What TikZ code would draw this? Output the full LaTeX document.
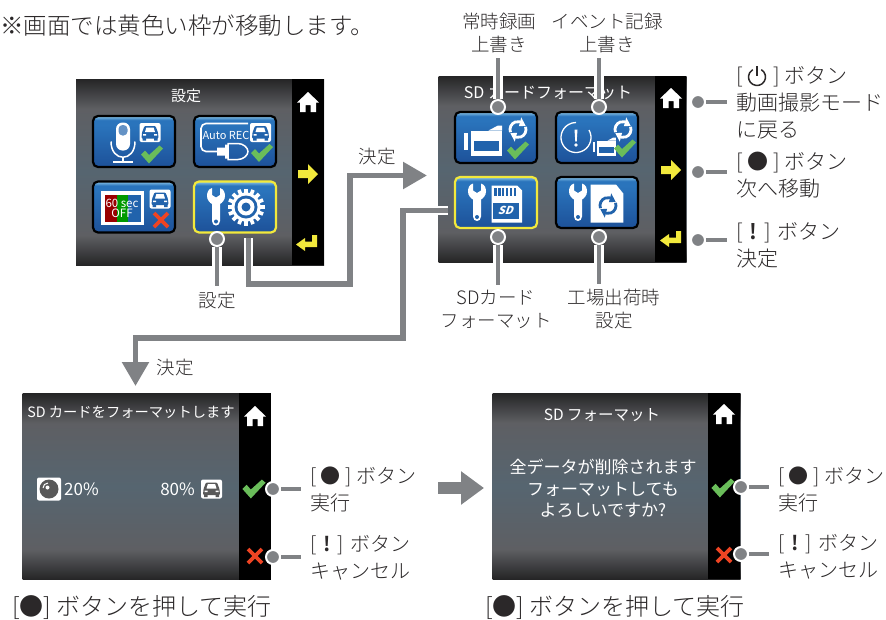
\documentclass[tikz,border=0pt]{standalone}
\usepackage{fontspec}
\setmainfont{Noto Sans CJK JP}[UprightFont={* Light},BoldFont={* Bold}]
\newfontfamily\scrfont{Noto Sans CJK JP}
\usetikzlibrary{arrows.meta}

\definecolor{inkDark}{HTML}{2B2829}
\definecolor{flowGray}{HTML}{808285}
\definecolor{btnBlue}{HTML}{2163AC}
\definecolor{cursorYellow}{HTML}{F2E93C}
\definecolor{okGreen}{HTML}{6ABD5A}
\definecolor{ngRed}{HTML}{EE4423}
\definecolor{scrEdge}{HTML}{252526}
\definecolor{scrSoft}{HTML}{5E5F63}
\definecolor{scrMid}{HTML}{566570}
\definecolor{btnLow}{HTML}{1D5199}
\definecolor{btnHigh}{HTML}{2A74BC}
\definecolor{btnGlow}{HTML}{8CC6E8}

\pgfdeclareverticalshading{screenshade}{100bp}{color(0bp)=(scrEdge); color(25bp)=(scrEdge); color(33bp)=(scrSoft); color(50bp)=(scrMid); color(67bp)=(scrSoft); color(75bp)=(scrEdge); color(100bp)=(scrEdge)}
\pgfdeclareverticalshading{btnshade}{100bp}{color(0bp)=(btnLow); color(25bp)=(btnLow); color(66bp)=(btnHigh); color(71bp)=(btnHigh); color(75bp)=(btnGlow); color(100bp)=(btnGlow)}

\tikzset{
    screenbox/.style={shade, shading=screenshade, minimum width=248pt, minimum height=186pt, inner sep=0pt},
    btnbox/.style={shade, shading=btnshade, draw=black, line width=2.2pt, rounded corners=5pt, minimum width=82pt, minimum height=51pt, inner sep=0pt},
    cursorbtn/.style={btnbox, draw=cursorYellow},
    scrtext/.style={text=white, font=\scrfont\fontsize{15}{21}\selectfont, align=center, inner sep=0pt},
    lbl/.style={text=inkDark, font=\fontsize{18.5}{23}\selectfont, align=center, inner xsep=0pt, inner ysep=5pt},
    rlabel/.style={text=inkDark, font=\fontsize{21}{27}\selectfont, align=left, anchor=west, inner xsep=9pt, inner ysep=0pt},
    rlabelsmall/.style={rlabel, font=\fontsize{20}{27}\selectfont},
    caption/.style={text=inkDark, font=\fontsize{24}{27}\selectfont, anchor=west, inner sep=0pt},
    dotmark/.style={circle, fill=flowGray, draw=white, line width=2pt, minimum size=14pt, inner sep=0pt},
    leader/.style={draw=flowGray, line width=3.5pt, preaction={draw=white, line width=10pt}},
    flowline/.style={draw=flowGray, line width=5.5pt, -{Triangle[length=24pt,width=26pt]}, preaction={draw=white, line width=9pt, -}},
    fatarrow/.style={draw=flowGray, line width=12pt, -{Triangle[length=23pt,width=32pt]}},
}

% Side bar icons
\newcommand{\iconHome}[1]{\fill[white,shift={#1}] (0,-10) -- (11,0.5) -- (8,0.5) -- (8,10) -- (2.5,10) -- (2.5,3) -- (-2.5,3) -- (-2.5,10) -- (-8,10) -- (-8,0.5) -- (-11,0.5) -- cycle;}
\newcommand{\iconNext}[1]{\fill[cursorYellow,shift={#1}] (-10,-4) -- (0,-4) -- (0,-10) -- (10,0) -- (0,10) -- (0,4) -- (-10,4) -- cycle;}
\newcommand{\iconEnter}[1]{\fill[cursorYellow,shift={#1}] (-11,1.5) -- (-2,-5) -- (-2,-1.5) -- (5,-1.5) -- (5,-8) -- (10,-8) -- (10,4) -- (-2,4) -- (-2,8) -- cycle;}
\newcommand{\iconCheck}[2]{\fill[okGreen,shift={#1},scale=#2] (-11,0) -- (-7,-4) -- (-3,0.5) -- (7.5,-9) -- (11,-6) -- (-3,9) -- cycle;}
\newcommand{\iconCross}[2]{\draw[ngRed,shift={#1},line width=3.8pt] (-#2,-#2) -- (#2,#2) (-#2,#2) -- (#2,-#2);}

% Button icons, positions relative to the button centre
\newcommand{\iconCar}[2]{
    \begin{scope}[shift={#1}]
        \fill[white,rounded corners=2pt] (-10.5,-9.5) rectangle (10.5,9.5);
        \fill[#2,rounded corners=1pt] (-8,0) -- (-5.5,-6.5) -- (5.5,-6.5) -- (8,0) -- (8.5,6) -- (-8.5,6) -- cycle;
        \fill[#2] (-7.5,5) rectangle (-4,8) (4,5) rectangle (7.5,8);
        \fill[white] (-5,-0.5) -- (-3.7,-4.8) -- (3.7,-4.8) -- (5,-0.5) -- cycle;
        \fill[white] (-7,1.5) rectangle (-4,3) (4,1.5) rectangle (7,3);
    \end{scope}
}
\newcommand{\iconWrench}[1]{
    \begin{scope}[shift={#1}]
        \fill[white] (-4,-19) .. controls (-8,-18) and (-9,-14) .. (-9,-11) .. controls (-9,-7) and (-6,-4) .. (-4,-3) -- (-4,14) .. controls (-4,20) and (4,20) .. (4,14) -- (4,-3) .. controls (6,-4) and (9,-7) .. (9,-11) .. controls (9,-14) and (8,-18) .. (4,-19) -- (4,-12) -- (0,-9.5) -- (-4,-12) -- cycle;
        \fill[btnBlue] (0,14.5) circle (2);
    \end{scope}
}
\newcommand{\iconSync}[2]{
    \begin{scope}[shift={#1},#2]
        \foreach \r in {0,180} {
            \draw[rotate=\r,line width=2.8pt] (160:8) arc (160:285:8);
            \fill[rotate=\r] (285:12.5) -- (285:3.5) -- (335:8.5) -- cycle;
        }
    \end{scope}
}
\newcommand{\iconCam}[2]{
    \begin{scope}[shift={#1},scale=#2]
        \fill[white] (-20,-8) rectangle (-16,9);
        \fill[white] (-13,-10) rectangle (18,15);
        \fill[white] (4.5,-10) -- (18,-10) -- (18,-15) -- (14,-15) -- cycle;
        \fill[btnBlue] (-10,0) rectangle (14.5,10);
    \end{scope}
}

\begin{document}
\begin{tikzpicture}[x=1pt,y=-1pt]
    \useasboundingbox (0,0) rectangle (886,619);

    \node[text=inkDark,font=\fontsize{23.5}{27}\selectfont,anchor=west,inner sep=0pt] (note) at (0,26) {※画面では黄色い枠が移動します。};

    % Screens and their side bars
    \node[screenbox] (screenA) at (200,172) {};
    \node[screenbox] (screenB) at (562.5,169) {};
    \node[screenbox] (screenC) at (146.5,486.5) {};
    \node[screenbox] (screenD) at (616.5,486) {};
    \fill[black] (292,79) rectangle (324,265);
    \fill[black] (655,76) rectangle (686,262);
    \fill[black] (239,393) rectangle (271,580);
    \fill[black] (708,393) rectangle (740,579);

    \iconHome{(308,102)}
    \iconNext{(308,174)}
    \iconEnter{(307,243)}
    \iconHome{(671,98)}
    \iconNext{(671,170)}
    \iconEnter{(671,239)}
    \iconHome{(255,416)}
    \iconCheck{(254,489)}{1.05}
    \iconCross{(255,556)}{7}
    \iconHome{(724,414)}
    \iconCheck{(723,488)}{1.05}
    \iconCross{(724,555)}{7}

    % First screen
    \node[scrtext] (titleA) at (186,96) {設定};
    \node[btnbox] (btnMic) at (134,141.5) {};
    \node[btnbox] (btnAuto) at (235,141.5) {};
    \node[btnbox] (btnSec) at (134,207) {};
    \node[cursorbtn] (btnSetup) at (235,207) {};

    \begin{scope}[shift={(btnMic.center)}]
        \fill[white,rounded corners=6.5pt] (-18,-19) rectangle (-4,9);
        \fill[btnBlue!70,rounded corners=4pt] (-15.5,-16.5) rectangle (-6.5,-6);
        \draw[white,line width=1.5pt] (-23,0) .. controls (-23,21) and (1,21) .. (1,0);
        \draw[white,line width=1.5pt] (-11,15) -- (-11,20) (-21,20.5) -- (-1,20.5);
        \iconCar{(16,-9)}{btnBlue}
        \iconCheck{(18,13)}{1}
    \end{scope}

    \begin{scope}[shift={(btnAuto.center)}]
        \draw[white,line width=1.6pt,rounded corners=5pt] (13,-18) -- (-34,-18) -- (-34,10) -- (-18,10);
        \node[text=white,font=\scrfont\fontsize{11}{12}\selectfont,inner sep=0pt] (autoRec) at (-9,-6) {Auto REC};
        \fill[white] (-18,6) rectangle (-10,14) (-10,3) rectangle (-7,17);
        \draw[white,line width=1.5pt] (-7,2) -- (3,2) .. controls (8,2) and (13,6) .. (13,10) .. controls (13,14) and (8,18) .. (3,18) -- (-7,18) -- cycle;
        \iconCar{(25.5,-9)}{btnBlue}
        \iconCheck{(27,11.5)}{1}
    \end{scope}

    \begin{scope}[shift={(btnSec.center)}]
        \fill[white] (-33,-16) rectangle (10,18);
        \fill[btnBlue] (-29.5,-12.5) rectangle (6.5,14.5);
        \fill[red!60!black] (-29.5,-12.5) rectangle (-17,14.5);
        \fill[green!60!black] (-17,-12.5) rectangle (-6,14.5);
        \node[text=white,font=\scrfont\fontsize{11.5}{12}\selectfont,inner sep=0pt] (secTop) at (-12,-4) {60 sec};
        \node[text=white,font=\scrfont\fontsize{11.5}{12}\selectfont,inner sep=0pt] (secOff) at (-12,6) {OFF};
        \iconCar{(26,-8)}{btnBlue}
        \iconCross{(27,13)}{7}
    \end{scope}

    \begin{scope}[shift={(btnSetup.center)}]
        \iconWrench{(-19,0)}
        \begin{scope}[shift={(11,0)}]
            \foreach \a in {0,22.5,...,337.5}
                \fill[white,rotate=\a] (-1.8,-18.5) rectangle (1.8,-12);
            \fill[white] (0,0) circle (14.5);
            \fill[btnBlue] (0,0) circle (11.5);
            \fill[white] (0,0) circle (8.5);
            \fill[btnBlue] (0,0) circle (4.5);
        \end{scope}
    \end{scope}

    % Second screen
    \node[scrtext,font=\scrfont\fontsize{16}{21}\selectfont] (titleB) at (548,93) {SD カードフォーマット};
    \node[btnbox] (btnLoop) at (496,137.5) {};
    \node[btnbox] (btnEvent) at (597,137.5) {};
    \node[cursorbtn] (btnSd) at (496,202.5) {};
    \node[btnbox] (btnReset) at (597,202.5) {};

    \begin{scope}[shift={(btnLoop.center)}]
        \iconCam{(-12,3)}{1}
        \iconSync{(22,-8)}{white}
        \iconCheck{(22,13)}{1}
    \end{scope}

    \begin{scope}[shift={(btnEvent.center)}]
        \draw[white,line width=1.3pt] (-21,0) ++(-30:15) arc (-30:270:15);
        \fill[white] (-22.5,-8) -- (-19.5,-8) -- (-20.3,4) -- (-21.7,4) -- cycle;
        \fill[white] (-21,7.5) circle (1.8);
        \iconCam{(8,9)}{0.6}
        \iconSync{(26,-8)}{white}
        \iconCheck{(28,11)}{1}
    \end{scope}

    \begin{scope}[shift={(btnSd.center)}]
        \iconWrench{(-19,0)}
        \fill[white] (-4.3,-17) -- (21,-17) -- (26,-12) -- (26,20) -- (-4.3,20) -- cycle;
        \foreach \s in {0,1,...,5}
            \fill[btnBlue] (-1.8+\s*3.9,-14.5) rectangle (0.6+\s*3.9,-7);
        \fill[btnBlue] (-2.7,0.3) rectangle (23.3,16);
        \node[text=white,font=\scrfont\fontsize{11}{12}\bfseries\selectfont,xslant=0.35,transform shape,inner sep=0pt] (sdMark) at (10.5,8) {SD};
    \end{scope}

    \begin{scope}[shift={(btnReset.center)}]
        \iconWrench{(-19,0)}
        \fill[white] (-6.3,-18) -- (19,-18) -- (26.3,-9) -- (26.3,20) -- (-6.3,20) -- cycle;
        \iconSync{(11,3)}{btnBlue}
    \end{scope}

    % Third screen
    \node[scrtext,font=\scrfont\fontsize{14.3}{21}\selectfont] (titleC) at (131,412) {SD カードをフォーマットします};
    \fill[white,rounded corners=2pt] (37,477.5) rectangle (61,500.5);
    \fill[gray!70!black] (49,489) circle (9.5);
    \fill[white] (47.5,487.5) circle (2);
    \draw[white,line width=1pt] (43,488) arc (180:270:5);
    \node[scrtext,font=\scrfont\fontsize{17}{20}\selectfont,anchor=west] (pctLeft) at (64,489) {20\%};
    \node[scrtext,font=\scrfont\fontsize{17}{20}\selectfont,anchor=east] (pctRight) at (195,489) {80\%};
    \iconCar{(211.5,489)}{gray!70!black}

    % Fourth screen
    \node[scrtext,font=\scrfont\fontsize{15.5}{21}\selectfont] (titleD) at (602,415) {SD フォーマット};
    \node[scrtext,font=\scrfont\fontsize{17}{21.5}\selectfont] (bodyD) at (603,488.5) {全データが削除されます\\フォーマットしても\\よろしいですか?};

    % Labels
    \node[lbl] (labLoop) at (499,32.5) {常時録画\\上書き};
    \node[lbl] (labEvent) at (607,32.5) {イベント記録\\上書き};
    \node[lbl] (labSetup) at (217,300) {設定};
    \node[lbl] (labSd) at (496,309) {SDカード\\フォーマット};
    \node[lbl] (labReset) at (614,309) {工場出荷時\\設定};
    \node[lbl] (labOkA) at (377,156) {決定};
    \node[lbl] (labOkB) at (175,367) {決定};

    \node[rlabel] (labPower) at (727,102.5) {[ \phantom{●} ] ボタン\\動画撮影モード\\に戻る};
    \begin{scope}[shift={(757,77)}]
        \draw[inkDark,line width=1.5pt] (-60:8.5) arc (-60:240:8.5);
        \draw[inkDark,line width=1.7pt] (0,-11) -- (0,-1);
    \end{scope}
    \node[rlabel] (labNext) at (727,175.5) {[ ● ] ボタン\\次へ移動};
    \node[rlabel] (labDecide) at (727,245.5) {[\hspace{7pt}\textbf{!}\hspace{7pt}] ボタン\\決定};
    \node[rlabelsmall] (labRunC) at (301,489.5) {[ ● ] ボタン\\実行};
    \node[rlabelsmall] (labCancelC) at (301,557.5) {[\hspace{7pt}\textbf{!}\hspace{7pt}] ボタン\\キャンセル};
    \node[rlabelsmall] (labRunD) at (769,489.5) {[ ● ] ボタン\\実行};
    \node[rlabelsmall] (labCancelD) at (769,556.5) {[\hspace{7pt}\textbf{!}\hspace{7pt}] ボタン\\キャンセル};

    \node[caption] (capC) at (12,607) {[●] ボタンを押して実行};
    \node[caption] (capD) at (485,607) {[●] ボタンを押して実行};

    % Leader dots
    \node[dotmark] (dotSetup) at (217,239) {};
    \node[dotmark] (dotLoop) at (498,107) {};
    \node[dotmark] (dotEvent) at (599,107) {};
    \node[dotmark] (dotSd) at (498,237) {};
    \node[dotmark] (dotReset) at (599,237) {};
    \node[dotmark] (dotPower) at (698,102) {};
    \node[dotmark] (dotNext) at (698,172) {};
    \node[dotmark] (dotDecide) at (698,240) {};
    \node[dotmark] (dotRunC) at (273,489) {};
    \node[dotmark] (dotCancelC) at (273,557) {};
    \node[dotmark] (dotRunD) at (741,487) {};
    \node[dotmark] (dotCancelD) at (741,554) {};

    \draw[leader] (dotSetup) -- (dotSetup |- labSetup.north);
    \draw[leader] (dotLoop) -- (dotLoop |- labLoop.south);
    \draw[leader] (dotEvent) -- (dotEvent |- labEvent.south);
    \draw[leader] (dotSd) -- (dotSd |- labSd.north);
    \draw[leader] (dotReset) -- (dotReset |- labReset.north);
    \draw[leader] (dotPower) -- (dotPower -| labPower.west);
    \draw[leader] (dotNext) -- (dotNext -| labNext.west);
    \draw[leader] (dotDecide) -- (dotDecide -| labDecide.west);
    \draw[leader] (dotRunC) -- (dotRunC -| labRunC.west);
    \draw[leader] (dotCancelC) -- (dotCancelC -| labCancelC.west);
    \draw[leader] (dotRunD) -- (dotRunD -| labRunD.west);
    \draw[leader] (dotCancelD) -- (dotCancelD -| labCancelD.west);

    % Flow arrows
    \coordinate (flowAstart) at (248.5,238);
    \coordinate (flowAturn) at (350,284);
    \coordinate (flowAend) at (427,175.5);
    \coordinate (flowBstart) at (448,210.5);
    \coordinate (flowBturn) at (403,338);
    \coordinate (flowBend) at (135.5,386);
    \coordinate (fatStart) at (438,488);
    \coordinate (fatEnd) at (484,488);
    \draw[flowline] (flowAstart) |- (flowAturn) |- (flowAend);
    \draw[flowline] (flowBstart) -| (flowBturn) -| (flowBend);
    \draw[fatarrow] (fatStart) -- (fatEnd);

\end{tikzpicture}
\end{document}
